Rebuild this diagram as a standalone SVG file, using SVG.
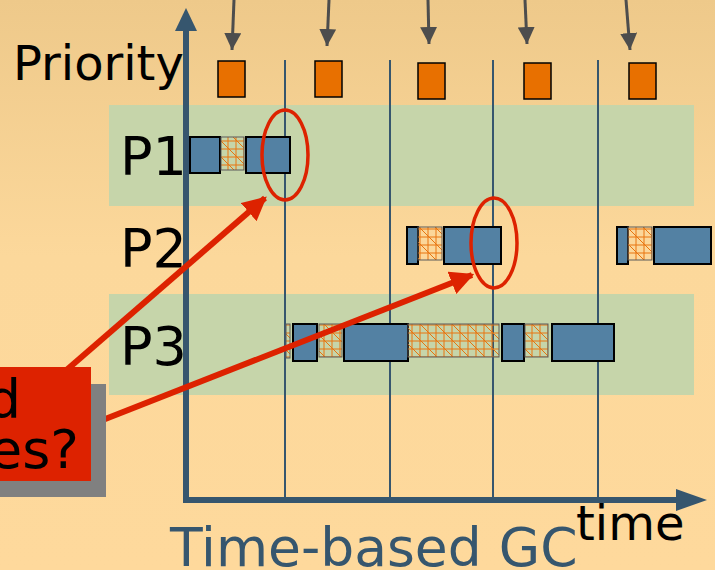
<svg xmlns="http://www.w3.org/2000/svg" width="715" height="570" viewBox="0 0 715 570">
<defs>
<linearGradient id="bg" x1="0" y1="0" x2="0" y2="1">
<stop offset="0" stop-color="#EEC98A"/>
<stop offset="0.45" stop-color="#FCD89B"/>
<stop offset="1" stop-color="#FED99C"/>
</linearGradient>
<pattern id="hatch" width="16" height="16" patternUnits="userSpaceOnUse">
<path d="M4 0V16M12 0V16M0 5H16M0 13H16M0 0L16 16M-8 8L8 24M8 -8L24 8" stroke="#E8740E" stroke-width="1" fill="none"/>
</pattern>
<marker id="gh" viewBox="0 0 10 10" refX="10" refY="5" markerWidth="17" markerHeight="17" markerUnits="userSpaceOnUse" orient="auto">
<path d="M0 0L10 5L0 10Z" fill="#4D4D4D"/>
</marker>
<marker id="rh" viewBox="0 0 10 10" refX="9" refY="5" markerWidth="24" markerHeight="24" markerUnits="userSpaceOnUse" orient="auto">
<path d="M0 0L10 5L0 10Z" fill="#DD2200"/>
</marker>
</defs>
<style>
.band{fill:#C6D5AA}
.grid{stroke:#36566E;stroke-width:2}
.axis{stroke:#36566E;stroke-width:6;fill:none}
.job{fill:#5381A3;stroke:#000;stroke-width:2}
.gc{fill:url(#hatch);stroke:#5a5a5a;stroke-width:1}
.ev{fill:#E87000;stroke:#000;stroke-width:1.5}
.tick{stroke:#4D4D4D;stroke-width:3;marker-end:url(#gh)}
.ring{fill:none;stroke:#DD2200;stroke-width:3.5}
.red{stroke:#DD2200;stroke-width:6;marker-end:url(#rh)}
.t{font-family:"DejaVu Sans",sans-serif;fill:#000}
</style>
<rect width="715" height="570" fill="url(#bg)"/>
<rect class="band" x="109" y="105" width="585" height="101"/>
<rect class="band" x="109" y="294" width="585" height="101"/>
<g id="grid">
<line class="grid" x1="285" y1="60" x2="285" y2="498"/>
<line class="grid" x1="390" y1="60" x2="390" y2="498"/>
<line class="grid" x1="493" y1="60" x2="493" y2="498"/>
<line class="grid" x1="598" y1="60" x2="598" y2="498"/>
</g>
<g id="labels">
<text class="t" x="13" y="80" font-size="48">Priority</text>
<text class="t" x="120" y="175" font-size="54">P1</text>
<text class="t" x="120" y="267" font-size="54">P2</text>
<text class="t" x="120" y="365" font-size="54">P3</text>
<text class="t" x="576" y="540" font-size="48">time</text>
<text x="170" y="566" font-size="53.5" font-family="DejaVu Sans,sans-serif" fill="#36566E">Time-based GC</text>
</g>
<g id="events">
<rect class="ev" x="218" y="61" width="27" height="36"/>
<rect class="ev" x="315" y="61" width="27" height="36"/>
<rect class="ev" x="418" y="63" width="27" height="36"/>
<rect class="ev" x="524" y="63" width="27" height="36"/>
<rect class="ev" x="629" y="63" width="27" height="36"/>
</g>
<g id="p1">
<rect class="job" x="190" y="137" width="30" height="36"/>
<rect class="gc" x="221" y="137" width="23" height="33"/>
<rect class="job" x="246" y="137" width="44" height="36"/>
</g>
<g id="p2">
<rect class="job" x="407" y="227" width="11" height="37"/>
<rect class="gc" x="418" y="227" width="24" height="33"/>
<rect class="job" x="444" y="227" width="57" height="37"/>
<rect class="job" x="617" y="227" width="11" height="37"/>
<rect class="gc" x="628" y="227" width="24" height="33"/>
<rect class="job" x="654" y="227" width="57" height="37"/>
</g>
<g id="p3">
<rect class="gc" x="286" y="324" width="4" height="34"/>
<rect class="job" x="293" y="324" width="24" height="37"/>
<rect class="gc" x="319" y="324" width="23" height="33"/>
<rect class="job" x="344" y="324" width="64" height="37"/>
<rect class="gc" x="408" y="324" width="91" height="33"/>
<rect class="job" x="502" y="324" width="22" height="37"/>
<rect class="gc" x="525" y="324" width="23" height="33"/>
<rect class="job" x="552" y="324" width="62" height="37"/>
</g>
<g id="axes">
<line class="axis" x1="186" y1="503" x2="186" y2="28"/>
<path d="M186 8L197 31H175Z" fill="#36566E"/>
<line class="axis" x1="183" y1="500" x2="680" y2="500"/>
<path d="M707 500L676 489V511Z" fill="#36566E"/>
</g>
<g id="connectors">
<line class="tick" x1="234" y1="0" x2="232" y2="50"/>
<line class="tick" x1="329" y1="0" x2="327" y2="46"/>
<line class="tick" x1="428" y1="0" x2="429" y2="44"/>
<line class="tick" x1="525" y1="0" x2="527" y2="44"/>
<line class="tick" x1="626" y1="0" x2="630" y2="50"/>
<ellipse class="ring" cx="285" cy="155" rx="23" ry="45"/>
<ellipse class="ring" cx="494" cy="243" rx="23" ry="45"/>
<line class="red" x1="55" y1="380" x2="265" y2="198"/>
<line class="red" x1="90" y1="425" x2="472" y2="275"/>
</g>
<g id="callout">
<rect x="0" y="384" width="106" height="113" fill="#808080"/>
<rect x="0" y="367" width="91" height="114" fill="#DD2200"/>
<text class="t" x="21" y="418" font-size="54" text-anchor="end">d</text>
<text class="t" x="79" y="468" font-size="54" text-anchor="end">es?</text>
</g>
</svg>
